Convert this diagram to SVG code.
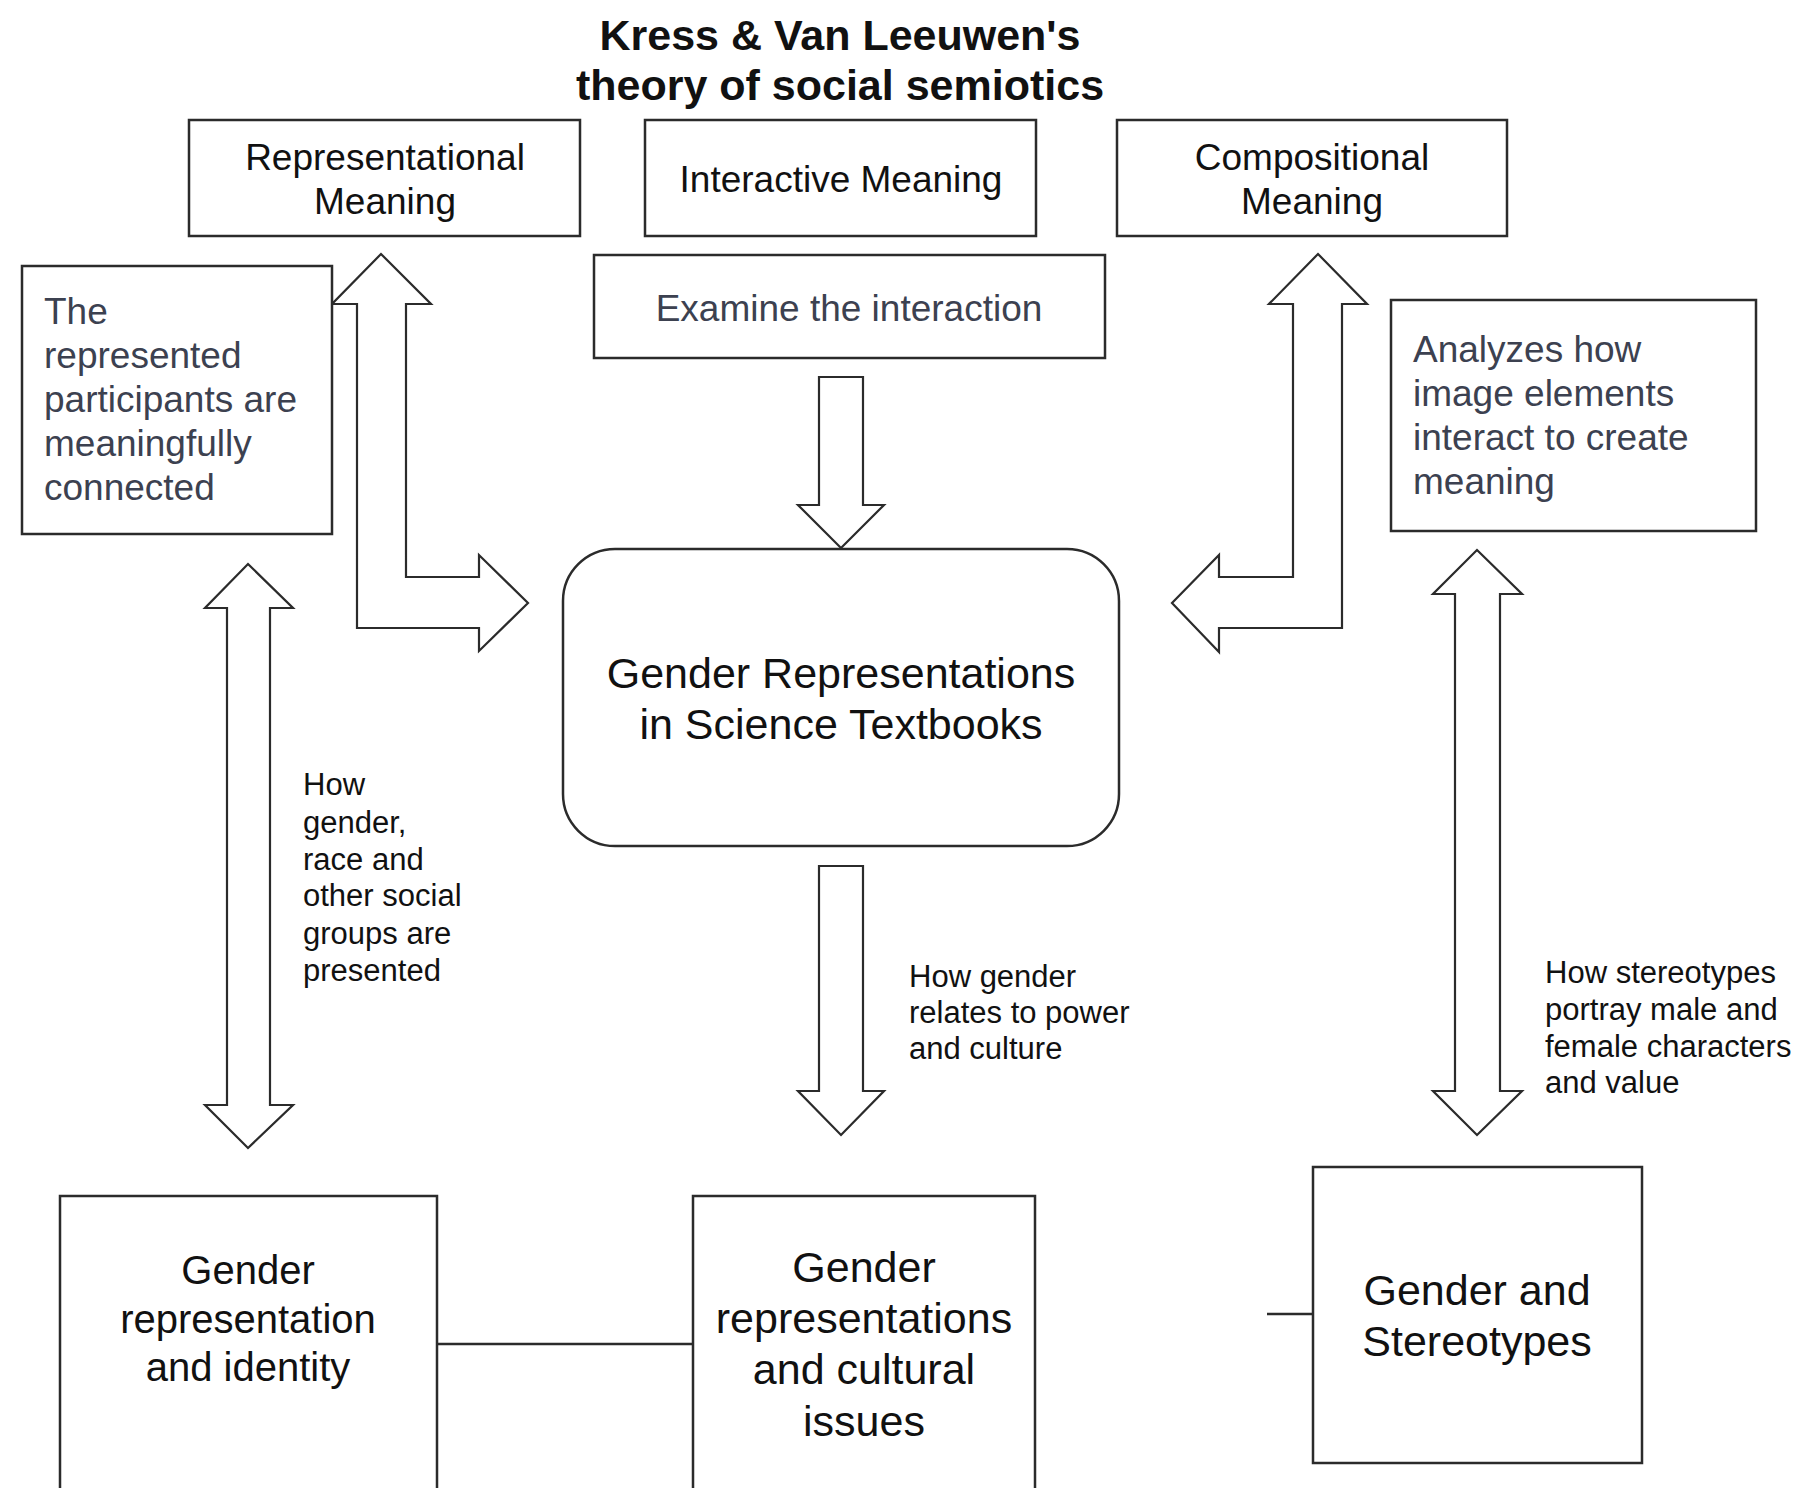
<svg xmlns="http://www.w3.org/2000/svg" width="1797" height="1488" viewBox="0 0 1797 1488">
<style>
.bg{fill:#ffffff}
.box{fill:#ffffff;stroke:#2b2b2b;stroke-width:2.5}
.arrow{fill:#ffffff;stroke:#2b2b2b;stroke-width:2.2;stroke-linejoin:miter}
.line{stroke:#2b2b2b;stroke-width:2.5;fill:none}
.t{font-family:"Liberation Sans",Arial,sans-serif;fill:#111111}
.c{text-anchor:middle}
.g{fill:#3c4150}
.title{font-weight:bold;font-size:43px}
.f37{font-size:37px}
.f31{font-size:31px}
.f40{font-size:40px}
.f43{font-size:43px}
</style>
<rect class="bg" x="0" y="0" width="1797" height="1488"/>

<g id="title">
<text class="t c title" x="840" y="50">Kress &amp; Van Leeuwen's</text>
<text class="t c title" x="840" y="100">theory of social semiotics</text>
</g>

<g id="connectors">
<polygon id="arrow-representational" class="arrow" points="381,254 431,304 406,304 406,577 479,577 479,555 528,603 479,651 479,628 357,628 357,304 332,304"/>
<polygon id="arrow-compositional" class="arrow" points="1318,254 1367,304 1342,304 1342,628 1219,628 1219,652 1172,603 1219,555 1219,577 1293,577 1293,304 1269,304"/>
<polygon id="arrow-interactive" class="arrow" points="819,377 863,377 863,505 884,505 841,548 798,505 819,505"/>
<polygon id="arrow-cultural" class="arrow" points="819,866 863,866 863,1091 884,1091 841,1135 798,1091 819,1091"/>
<polygon id="arrow-identity" class="arrow" points="248,564 293,608 270,608 270,1105 293,1105 248,1148 205,1105 227,1105 227,608 205,608"/>
<polygon id="arrow-stereotypes" class="arrow" points="1477,550 1522,594 1500,594 1500,1091 1522,1091 1477,1135 1433,1091 1455,1091 1455,594 1433,594"/>
<line class="line" x1="437" y1="1344" x2="693" y2="1344"/>
<line class="line" x1="1267" y1="1314" x2="1313" y2="1314"/>
</g>

<g id="label-identity">
<text class="t f31" x="303" y="795">How</text>
<text class="t f31" x="303" y="833">gender,</text>
<text class="t f31" x="303" y="870">race and</text>
<text class="t f31" x="303" y="906">other social</text>
<text class="t f31" x="303" y="944">groups are</text>
<text class="t f31" x="303" y="981">presented</text>
</g>
<g id="label-cultural">
<text class="t f31" x="909" y="987">How gender</text>
<text class="t f31" x="909" y="1023">relates to power</text>
<text class="t f31" x="909" y="1059">and culture</text>
</g>
<g id="label-stereotypes">
<text class="t f31" x="1545" y="983">How stereotypes</text>
<text class="t f31" x="1545" y="1020">portray male and</text>
<text class="t f31" x="1545" y="1057">female characters</text>
<text class="t f31" x="1545" y="1093">and value</text>
</g>

<g id="node-representational">
<rect class="box" x="189" y="120" width="391" height="116"/>
<text class="t c f37" x="385" y="170">Representational</text>
<text class="t c f37" x="385" y="214">Meaning</text>
</g>
<g id="node-interactive">
<rect class="box" x="645" y="120" width="391" height="116"/>
<text class="t c f37" x="841" y="192">Interactive Meaning</text>
</g>
<g id="node-compositional">
<rect class="box" x="1117" y="120" width="390" height="116"/>
<text class="t c f37" x="1312" y="170">Compositional</text>
<text class="t c f37" x="1312" y="214">Meaning</text>
</g>
<g id="node-examine">
<rect class="box" x="594" y="255" width="511" height="103"/>
<text class="t c f37 g" x="849" y="321">Examine the interaction</text>
</g>
<g id="node-represented-participants">
<rect class="box" x="22" y="266" width="310" height="268"/>
<text class="t f37 g" x="44" y="324">The</text>
<text class="t f37 g" x="44" y="368">represented</text>
<text class="t f37 g" x="44" y="412">participants are</text>
<text class="t f37 g" x="44" y="456">meaningfully</text>
<text class="t f37 g" x="44" y="500">connected</text>
</g>
<g id="node-analyzes">
<rect class="box" x="1391" y="300" width="365" height="231"/>
<text class="t f37 g" x="1413" y="362">Analyzes how</text>
<text class="t f37 g" x="1413" y="406">image elements</text>
<text class="t f37 g" x="1413" y="450">interact to create</text>
<text class="t f37 g" x="1413" y="494">meaning</text>
</g>
<g id="node-center">
<rect class="box" x="563" y="549" width="556" height="297" rx="52" ry="52"/>
<text class="t c f43" x="841" y="688">Gender Representations</text>
<text class="t c f43" x="841" y="739">in Science Textbooks</text>
</g>
<g id="node-identity">
<rect class="box" x="60" y="1196" width="377" height="320"/>
<text class="t c f40" x="248" y="1284">Gender</text>
<text class="t c f40" x="248" y="1333">representation</text>
<text class="t c f40" x="248" y="1381">and identity</text>
</g>
<g id="node-cultural">
<rect class="box" x="693" y="1196" width="342" height="320"/>
<text class="t c f43" x="864" y="1282">Gender</text>
<text class="t c f43" x="864" y="1333">representations</text>
<text class="t c f43" x="864" y="1384">and cultural</text>
<text class="t c f43" x="864" y="1436">issues</text>
</g>
<g id="node-stereotypes">
<rect class="box" x="1313" y="1167" width="329" height="296"/>
<text class="t c f43" x="1477" y="1305">Gender and</text>
<text class="t c f43" x="1477" y="1356">Stereotypes</text>
</g>
</svg>
